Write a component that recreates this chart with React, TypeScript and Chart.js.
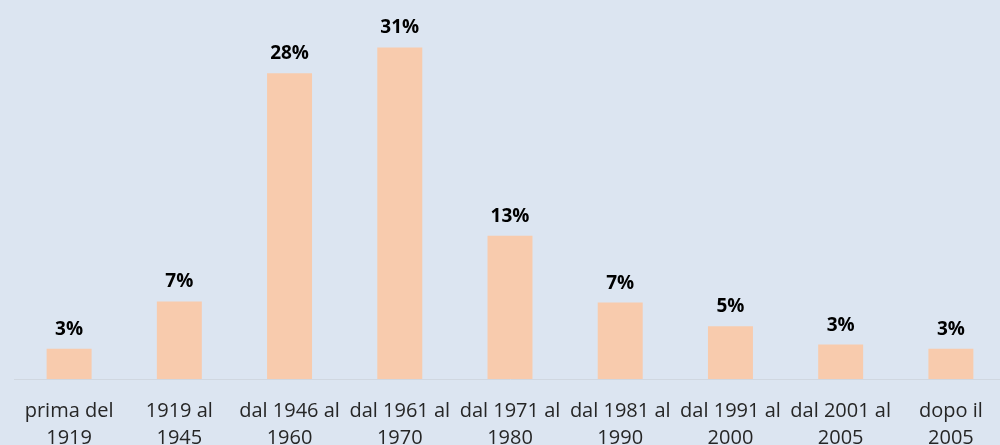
import React, { useEffect, useRef } from "react";
import { Chart, registerables } from "chart.js";

Chart.register(...registerables);

const categories: string[][] = [
  ["prima del", "1919"],
  ["1919 al", "1945"],
  ["dal 1946 al", "1960"],
  ["dal 1961 al", "1970"],
  ["dal 1971 al", "1980"],
  ["dal 1981 al", "1990"],
  ["dal 1991 al", "2000"],
  ["dal 2001 al", "2005"],
  ["dopo il", "2005"],
];

const values: number[] = [2.8, 7.2, 28.4, 30.8, 13.3, 7.1, 4.9, 3.2, 2.8];

const valueLabels: string[] = ["3%", "7%", "28%", "31%", "13%", "7%", "5%", "3%", "3%"];

const BG = "#DCE5F1";
const BAR = "#F8CBAD";

const labelPlugin = {
  id: "valueLabels",
  afterDatasetsDraw(chart: any) {
    const ctx = chart.ctx;
    const meta = chart.getDatasetMeta(0);
    ctx.save();
    ctx.font = "bold 19px 'Open Sans'";
    ctx.fillStyle = "#000000";
    ctx.textAlign = "center";
    ctx.textBaseline = "alphabetic";
    meta.data.forEach((bar: any, i: number) => {
      ctx.fillText(valueLabels[i], bar.x, bar.y - 14);
    });
    ctx.restore();
  },
};

export default function App() {
  const ref = useRef<HTMLCanvasElement>(null);
  useEffect(() => {
    if (!ref.current) return;
    const chart = new Chart(ref.current, {
      type: "bar",
      data: {
        labels: categories,
        datasets: [
          {
            data: values,
            backgroundColor: BAR,
            borderWidth: 0,
            categoryPercentage: 1,
            barPercentage: 0.408,
          },
        ],
      },
      options: {
        responsive: false,
        animation: false,
        maintainAspectRatio: false,
        layout: { padding: { top: 0, left: 14, right: 14, bottom: 10 } },
        plugins: {
          legend: { display: false },
          tooltip: { enabled: false },
        },
        scales: {
          x: {
            grid: { display: false, drawTicks: false },
            border: { display: true, color: "#D0D7E0", width: 1 },
            ticks: {
              color: "#262626",
              font: { family: "'Open Sans'", size: 20, lineHeight: 1.35 },
              padding: 19,
              maxRotation: 0,
              autoSkip: false,
            },
          },
          y: {
            display: false,
            min: 0,
            max: 35.2,
          },
        },
      },
      plugins: [labelPlugin],
    });
    return () => chart.destroy();
  }, []);
  return (
    <div
      style={{
        position: "fixed",
        left: 0,
        top: 0,
        width: 1000,
        height: 445,
        overflow: "hidden",
        background: BG,
      }}
    >
      <canvas ref={ref} width={1020} height={481} style={{ display: "block" }} />
    </div>
  );
}
